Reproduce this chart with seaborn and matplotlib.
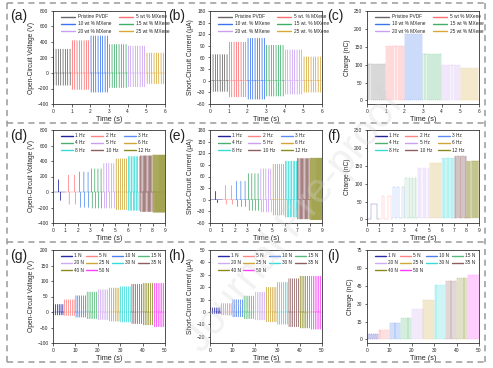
import numpy as np
import pandas as pd
import matplotlib
matplotlib.use("Agg")
import matplotlib.pyplot as plt
import seaborn as sns
from matplotlib.lines import Line2D

# ---------------- data ----------------
mx_labels = ["Pristine PVDF", "5 wt % MXene", "10 wt % MXene",
             "15 wt % MXene", "20 wt % MXene", "25 wt % MXene"]
mx_labels_b = ["Pristine PVDF", "5 wt. % MXene", "10 wt. % MXene",
               "15 wt. % MXene", "20 wt. % MXene", "25 wt. % MXene"]
a_pos = [310, 420, 480, 370, 350, 260]
a_neg = [-160, -215, -250, -190, -180, -140]
b_pos = [68, 100, 110, 92, 80, 62]
b_neg = [-28, -42, -48, -40, -35, -30]
c_val = [102, 153, 187, 131, 100, 91]
mx_counts = [8, 8, 8, 8, 8, 8]

freq_labels = ["1 Hz", "2 Hz", "3 Hz", "4 Hz", "5 Hz", "6 Hz", "8 Hz", "10 Hz", "12 Hz"]
freq_counts = [1, 2, 3, 4, 5, 6, 8, 10, 12]
d_pos = [160, 220, 260, 300, 370, 430, 460, 470, 480]
d_neg = [-110, -160, -200, -210, -210, -230, -240, -255, -265]
e_pos = [22, 37, 48, 68, 80, 92, 100, 107, 108]
e_neg = [-8, -12, -18, -28, -32, -40, -45, -50, -52]
f_val = [43, 65, 90, 115, 143, 158, 172, 176, 163]
f_base = [0, 0, 3, 5, 5, 5, 5, 5, 5]

force_labels = ["1 N", "5 N", "10 N", "15 N", "20 N", "25 N", "30 N", "35 N", "40 N", "50 N"]
force_counts = [6, 6, 6, 6, 6, 6, 6, 6, 6, 6]
g_pos = [25, 40, 53, 65, 72, 78, 82, 90, 93, 93]
g_neg = [-10, -12, -17, -22, -25, -30, -33, -38, -42, -48]
h_pos = [3.5, 7, 10, 13, 16, 20, 24, 27, 29, 29]
h_neg = [-1.5, -2.5, -4, -5.5, -6.5, -8, -10, -12, -13, -14]
i_val = [4.5, 8, 13.5, 18, 25.5, 33, 45.5, 49, 51.5, 54]
i_base = [0, 0, 0, 0, 0, 0, 0, 0, 0, 0]

mx_colors = ["#666666", "#ff6f6f", "#3a73f0", "#3fae6a", "#c9a0f0", "#d8a93a"]
freq_colors = ["#22229a", "#ff8585", "#5a8ff0", "#4caf70", "#c9a0f0",
               "#cfa63a", "#38dada", "#8e5e60", "#8a8a20"]
force_colors = ["#2a2aa8", "#ff8585", "#4c80ee", "#55bb78", "#cfaaf0",
                "#cfa63a", "#38dada", "#8e5e60", "#8a8a20", "#ff3cff"]


def spikes(labels, pos, neg, counts, seg_len, lead=0.3, gap=0.05):
    rows = []
    for i, (lab, p, n, c) in enumerate(zip(labels, pos, neg, counts)):
        s = i * seg_len
        per = seg_len / c
        e = per * 0.005
        pts = [(s, 0)]
        for k in range(c):
            t = s + (k + lead) * per
            g = gap * per
            pts += [(t - e, 0), (t, p), (t + e, 0), (t + g - e, 0), (t + g, n), (t + g + e, 0)]
        pts.append((s + seg_len, 0))
        rows += [(x, y, lab) for x, y in pts]
    return pd.DataFrame(rows, columns=["t", "v", "label"])


def pulses(labels, vals, bases, counts, seg_len, lead=0.2, width=0.6):
    rows = []
    for i, (lab, v, b, c) in enumerate(zip(labels, vals, bases, counts)):
        s = i * seg_len
        per = seg_len / c
        pts = [(s, b)]
        for k in range(c):
            t0 = s + (k + lead) * per
            w = width * per
            pts += [(t0, b), (t0, v), (t0 + w, v), (t0 + w, b)]
        pts.append((s + seg_len, b))
        rows += [(x, y, lab) for x, y in pts]
    return pd.DataFrame(rows, columns=["t", "v", "label"])


sns.set_style("ticks")
plt.rcParams["font.family"] = ["Liberation Sans", "DejaVu Sans"]

W, H = 493, 368
fig = plt.figure(figsize=(W / 100, H / 100), dpi=100)

col_left = [53, 210, 367]
row_top = [11, 130, 250]
ax_w, ax_h = 112, 93


def make_ax(r, c):
    l = col_left[c] / W
    b = 1 - (row_top[r] + ax_h) / H
    return fig.add_axes([l, b, ax_w / W, ax_h / H])


def style(ax, xlim, xticks, ylim, yticks, ylabel):
    ax.set_xlim(*xlim)
    ax.set_ylim(*ylim)
    ax.set_xticks(xticks)
    ax.set_yticks(yticks)
    ax.set_xlabel("Time (s)", fontsize=5.2, labelpad=2)
    ax.set_ylabel(ylabel, fontsize=4.8, labelpad=2)
    ax.tick_params(labelsize=3.5, length=1.8, width=0.5, pad=1.5)
    for sp in ax.spines.values():
        sp.set_visible(True)
        sp.set_linewidth(0.6)
        sp.set_color("#333333")


def legend(ax, labels, colors, ncol, order, hl=3.0, tp=0.6, cs=1.6):
    hs = [Line2D([0], [0], color=colors[i], lw=1.0) for i in order]
    ls = [labels[i] for i in order]
    ax.legend(hs, ls, ncol=ncol, loc="upper left", bbox_to_anchor=(0.04, 1.0),
              frameon=False, fontsize=3.4, handlelength=hl, handletextpad=tp,
              columnspacing=cs, labelspacing=0.45, borderaxespad=0.3)


def draw(ax, df, labels, colors, lw=0.35, alpha=0.8):
    sns.lineplot(data=df, x="t", y="v", hue="label", hue_order=labels,
                 palette=colors, sort=False, estimator=None, lw=lw,
                 alpha=alpha, legend=False, ax=ax)


mx_order = [0, 2, 4, 1, 3, 5]
fr_order = [0, 3, 6, 1, 4, 7, 2, 5, 8]
fo_order = [0, 4, 8, 1, 5, 9, 2, 6, 3, 7]

# (a)
ax = make_ax(0, 0)
draw(ax, spikes(mx_labels, a_pos, a_neg, mx_counts, 1.0), mx_labels, mx_colors)
style(ax, (0, 6), range(0, 7), (-400, 800), range(-400, 801, 200), "Open-Circuit Voltage (V)")
legend(ax, mx_labels, mx_colors, 2, mx_order)
# (b)
ax = make_ax(0, 1)
draw(ax, spikes(mx_labels_b, b_pos, b_neg, mx_counts, 1.0), mx_labels_b, mx_colors)
style(ax, (0, 6), range(0, 7), (-60, 180), range(-60, 181, 30), "Short-Circuit Current (μA)")
legend(ax, mx_labels_b, mx_colors, 2, mx_order)
# (c)
ax = make_ax(0, 2)
draw(ax, pulses(mx_labels, c_val, [0] * 6, [9] * 6, 1.0, width=0.55), mx_labels, mx_colors, lw=0.3, alpha=0.6)
style(ax, (0, 6), range(0, 7), (-10, 250), range(0, 251, 50), "Charge (nC)")
legend(ax, mx_labels, mx_colors, 2, mx_order)

# (d)
ax = make_ax(1, 0)
draw(ax, spikes(freq_labels, d_pos, d_neg, freq_counts, 1.0, lead=0.45, gap=0.15), freq_labels, freq_colors)
style(ax, (0, 9), range(0, 10), (-400, 800), range(-400, 801, 200), "Open-Circuit Voltage (V)")
legend(ax, freq_labels, freq_colors, 3, fr_order, hl=2.6, tp=0.5, cs=1.2)
# (e)
ax = make_ax(1, 1)
draw(ax, spikes(freq_labels, e_pos, e_neg, freq_counts, 1.0, lead=0.45, gap=0.15), freq_labels, freq_colors)
style(ax, (0, 9), range(0, 10), (-60, 180), range(-60, 181, 30), "Short-Circuit Current (μA)")
legend(ax, freq_labels, freq_colors, 3, fr_order, hl=2.6, tp=0.5, cs=1.2)
# (f)
ax = make_ax(1, 2)
draw(ax, pulses(freq_labels, f_val, f_base, freq_counts, 1.0, lead=0.35, width=0.45), freq_labels, freq_colors, lw=0.3, alpha=0.6)
style(ax, (0, 9), range(0, 10), (-10, 250), range(0, 251, 50), "Charge (nC)")
legend(ax, freq_labels, freq_colors, 3, fr_order, hl=2.6, tp=0.5, cs=1.2)

# (g)
ax = make_ax(2, 0)
draw(ax, spikes(force_labels, g_pos, g_neg, force_counts, 5.0), force_labels, force_colors)
style(ax, (0, 50), range(0, 51, 10), (-100, 200), range(-100, 201, 50), "Open-Circuit Voltage (V)")
legend(ax, force_labels, force_colors, 4, fo_order, hl=2.3, tp=0.4, cs=0.6)
# (h)
ax = make_ax(2, 1)
draw(ax, spikes(force_labels, h_pos, h_neg, force_counts, 5.0), force_labels, force_colors)
style(ax, (0, 50), range(0, 51, 10), (-25, 50), range(-20, 51, 10), "Short-Circuit Current (μA)")
legend(ax, force_labels, force_colors, 4, fo_order, hl=2.3, tp=0.4, cs=0.6)
# (i)
ax = make_ax(2, 2)
draw(ax, pulses(force_labels, i_val, i_base, [6] * 10, 5.0, width=0.55), force_labels, force_colors, lw=0.3, alpha=0.6)
style(ax, (0, 50), range(0, 51, 10), (-3, 75), range(0, 76, 15), "Charge (nC)")
legend(ax, force_labels, force_colors, 4, fo_order, hl=2.3, tp=0.4, cs=0.6)

# panel letters
letters = ["(a)", "(b)", "(c)", "(d)", "(e)", "(f)", "(g)", "(h)", "(i)"]
lx = [10, 168, 327]
ly = [16, 136, 256]
for r in range(3):
    for c in range(3):
        fig.text(lx[c] / W, 1 - ly[r] / H, letters[r * 3 + c], fontsize=10,
                 ha="left", va="center", color="#222222")

# dashed frame
dash = dict(color="#9a9a9a", lw=1.1, linestyle=(0, (4, 3)))
x0, x1 = 7 / W, 485 / W
for yp in [3, 123, 242, 362]:
    fig.add_artist(Line2D([x0, x1], [1 - yp / H, 1 - yp / H], transform=fig.transFigure, **dash))
for xp in [7, 485]:
    fig.add_artist(Line2D([xp / W, xp / W], [1 - 3 / H, 1 - 362 / H], transform=fig.transFigure, **dash))

# watermark
fig.text(295 / W, 1 - 222 / H, "Journal Pre-proof", rotation=51, fontsize=30,
         color="#d4d4d4", alpha=0.3, ha="center", va="center")

fig.savefig("out.png", dpi=100)
